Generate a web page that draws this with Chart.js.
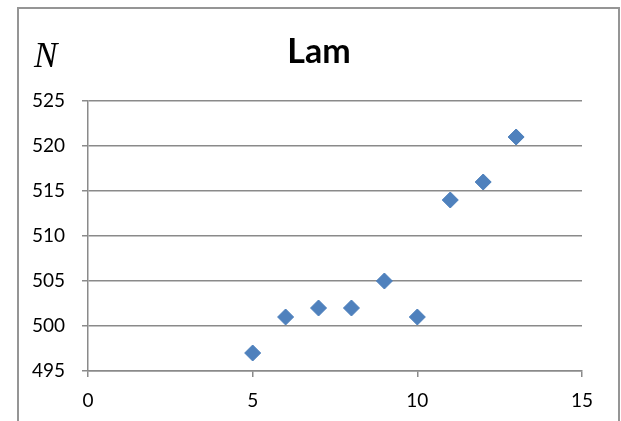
<!DOCTYPE html>
<html>
<head>
<meta charset="utf-8">
<script src="https://cdn.jsdelivr.net/npm/chart.js@4"></script>
<style>
  html, body { margin: 0; padding: 0; background: #ffffff; }
  #wrap { width: 621px; height: 421px; }
</style>
</head>
<body>
<div id="wrap"><canvas id="chart" width="621" height="421"></canvas></div>
<script>
// Measurements: lambda on the x axis, N on the y axis
const lamValues = [5, 6, 7, 8, 9, 10, 11, 12, 13];
const nValues = [497, 501, 502, 502, 505, 501, 514, 516, 521];
const xTickValues = [0, 5, 10, 15];
const yTickValues = [495, 500, 505, 510, 515, 520, 525];
const chartTitle = 'Lam';
const yAxisLabel = 'N';

const points = lamValues.map((x, i) => ({ x: x, y: nValues[i] }));

const lineGray = '#8a8a8a';
const textColor = '#000000';

// Outer frame, bold title and the italic axis letter
const frameAndTitles = {
  id: 'frameAndTitles',
  beforeDraw(chart) {
    const ctx = chart.ctx;
    ctx.save();
    ctx.fillStyle = '#ffffff';
    ctx.fillRect(0, 0, chart.width, chart.height);
    ctx.strokeStyle = '#959595';
    ctx.lineWidth = 2;
    ctx.strokeRect(18, 8, 601, 450);
    ctx.restore();
  },
  afterDraw(chart) {
    const ctx = chart.ctx;
    ctx.save();
    ctx.fillStyle = textColor;
    ctx.textBaseline = 'alphabetic';
    ctx.textAlign = 'center';
    ctx.font = 'bold 34px Lato';
    ctx.fillText(chartTitle, 319, 62.5);
    ctx.textAlign = 'left';
    ctx.font = 'italic 35px "Liberation Serif"';
    ctx.fillText(yAxisLabel, 34, 66.5);
    ctx.restore();
  }
};

new Chart(document.getElementById('chart'), {
  type: 'scatter',
  data: {
    datasets: [{
      data: points,
      pointStyle: 'rectRot',
      pointRadius: 8,
      pointHoverRadius: 8,
      backgroundColor: '#4f81bd',
      borderColor: '#4a7ebb',
      borderWidth: 1
    }]
  },
  options: {
    responsive: false,
    animation: false,
    devicePixelRatio: 1,
    layout: { padding: { top: 101, right: 39, bottom: 0, left: 0 } },
    plugins: {
      legend: { display: false },
      title: { display: false },
      tooltip: { enabled: false }
    },
    scales: {
      x: {
        type: 'linear',
        min: xTickValues[0],
        max: xTickValues[xTickValues.length - 1],
        afterBuildTicks(scale) { scale.ticks = xTickValues.map(v => ({ value: v })); },
        afterFit(scale) { scale.height = 50; },
        grid: {
          drawOnChartArea: false,
          drawTicks: true,
          tickLength: 6,
          color: lineGray,
          lineWidth: 1.5
        },
        border: { color: lineGray, width: 1.5 },
        ticks: {
          padding: 12,
          color: textColor,
          font: { family: 'Lato', size: 19 }
        }
      },
      y: {
        type: 'linear',
        min: yTickValues[0],
        max: yTickValues[yTickValues.length - 1],
        afterBuildTicks(scale) { scale.ticks = yTickValues.map(v => ({ value: v })); },
        afterFit(scale) { scale.width = 88; },
        grid: {
          drawTicks: true,
          tickLength: 6,
          color: lineGray,
          lineWidth: 1.5
        },
        border: { color: lineGray, width: 1.5 },
        ticks: {
          padding: 17,
          color: textColor,
          font: { family: 'Lato', size: 19 }
        }
      }
    }
  },
  plugins: [frameAndTitles]
});
</script>
</body>
</html>
